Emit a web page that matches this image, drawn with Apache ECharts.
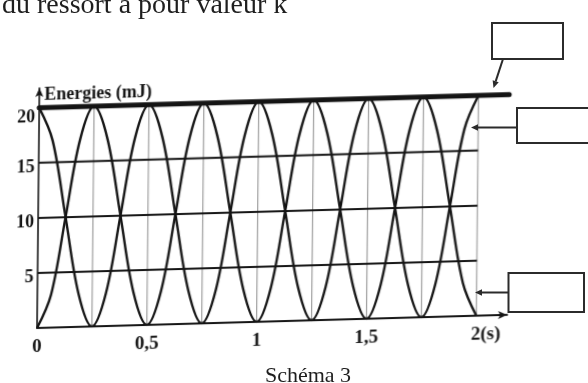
<!DOCTYPE html>
<html>
<head>
<meta charset="utf-8">
<script src="https://cdn.jsdelivr.net/npm/echarts@6/dist/echarts.min.js"></script>
<style>
  html, body { margin: 0; padding: 0; background: #fff; width: 588px; height: 383px; overflow: hidden; position: relative; }
  /* the energy plot is a scanned figure, pasted slightly skewed on the page */
  #plot { position: absolute; left: -20px; top: -20px; width: 640px; height: 440px;
          transform-origin: 20px 20px; transform: matrix(1, -0.028, -0.01, 1, 3.3, 0); }
  #notes { position: absolute; left: 0; top: 0; width: 588px; height: 383px; pointer-events: none; }
</style>
</head>
<body>
<div id="plot"></div>
<div id="notes"></div>
<script>
// time samples (s)
const timeS = [0, 0.0625, 0.125, 0.1875, 0.25, 0.3125, 0.375, 0.4375,
               0.5, 0.5625, 0.625, 0.6875, 0.75, 0.8125, 0.875, 0.9375,
               1, 1.0625, 1.125, 1.1875, 1.25, 1.3125, 1.375, 1.4375,
               1.5, 1.5625, 1.625, 1.6875, 1.75, 1.8125, 1.875, 1.9375, 2];
// energy curve that starts at 0 mJ
const energyRising = [0, 3, 10, 17, 20, 17, 10, 3,
                      0, 3, 10, 17, 20, 17, 10, 3,
                      0, 3, 10, 17, 20, 17, 10, 3,
                      0, 3, 10, 17, 20, 17, 10, 3, 0];
// energy curve that starts at 20 mJ
const energyFalling = [20, 17, 10, 3, 0, 3, 10, 17,
                       20, 17, 10, 3, 0, 3, 10, 17,
                       20, 17, 10, 3, 0, 3, 10, 17,
                       20, 17, 10, 3, 0, 3, 10, 17, 20];
// total energy (thick line)
const totalTime = [0, 2.14];
const totalEnergy = [20, 20];
// grid
const gridLevels = [5, 10, 15];
const gridTimes = [0.25, 0.5, 0.75, 1, 1.25, 1.5, 1.75, 2];
// tick labels
const xTickValues = [0, 0.5, 1, 1.5, 2];
const xTickLabels = ['0', '0,5', '1', '1,5', '2(s)'];
const yTickValues = [5, 10, 15, 20];
const yTickLabels = ['5', '10', '15', '20'];
const yAxisTitle = 'Energies (mJ)';
const headline = 'du ressort a pour valeur k';
const caption = 'Schéma 3';

const INK = '#141414';
const SERIF = '"Liberation Serif", "Times New Roman", serif';

const series = [];
// vertical guide lines
gridTimes.forEach(t => series.push({
  type: 'line', data: [[t, 0], [t, 20]], symbol: 'none', silent: true, z: 1,
  lineStyle: { color: '#8a8a8a', width: 1 }
}));
// horizontal guide lines
gridLevels.forEach(v => series.push({
  type: 'line', data: [[0, v], [2, v]], symbol: 'none', silent: true, z: 2,
  lineStyle: { color: INK, width: 2 }
}));
series.push({
  type: 'line', smooth: 0.35, symbol: 'none', z: 3,
  data: timeS.map((t, i) => [t, energyRising[i]]),
  lineStyle: { color: INK, width: 2.4 }
});
series.push({
  type: 'line', smooth: 0.35, symbol: 'none', z: 3,
  data: timeS.map((t, i) => [t, energyFalling[i]]),
  lineStyle: { color: INK, width: 2.4 }
});
series.push({
  type: 'line', symbol: 'none', z: 4,
  data: totalTime.map((t, i) => [t, totalEnergy[i]]),
  lineStyle: { color: INK, width: 5, cap: 'round' }
});

const plot = echarts.init(document.getElementById('plot'), null, { renderer: 'canvas' });
plot.setOption({
  animation: false,
  backgroundColor: 'transparent',
  grid: { left: 57, right: 113, top: 109, bottom: 91 },
  xAxis: {
    type: 'value', min: 0, max: 2.14, interval: 0.5,
    axisLine: { show: true, lineStyle: { color: INK, width: 2 },
                symbol: ['none', 'arrow'], symbolSize: [6, 9] },
    axisTick: { show: false },
    splitLine: { show: false },
    axisLabel: {
      margin: 10, color: INK, fontFamily: SERIF, fontWeight: 'bold', fontSize: 19,
      showMaxLabel: false,
      formatter: v => {
        const i = xTickValues.indexOf(v);
        if (i < 0) return '';
        return i === xTickValues.length - 1 ? '{s|' + xTickLabels[i] + '}' : xTickLabels[i];
      },
      rich: { s: { padding: [0, 0, 0, 19], color: INK, fontFamily: SERIF, fontWeight: 'bold', fontSize: 19 } }
    }
  },
  yAxis: {
    type: 'value', min: 0, max: 21.8, interval: 5,
    name: yAxisTitle, nameLocation: 'end', nameGap: -7,
    nameTextStyle: { color: INK, fontFamily: SERIF, fontWeight: 'bold', fontSize: 18,
                     align: 'left', verticalAlign: 'middle', padding: [0, 0, 0, 5] },
    axisLine: { show: true, lineStyle: { color: INK, width: 1.6 },
                symbol: ['none', 'arrow'], symbolSize: [6, 9] },
    axisTick: { show: false },
    splitLine: { show: false },
    axisLabel: {
      margin: 4, color: INK, fontFamily: SERIF, fontWeight: 'bold', fontSize: 18,
      showMaxLabel: false,
      formatter: v => {
        const i = yTickValues.indexOf(v);
        if (i < 0) return '';
        return v === 20 ? '{t|' + yTickLabels[i] + '}' : '{n|' + yTickLabels[i] + '}';
      },
      rich: {
        n: { padding: [8, 0, 0, 0], color: INK, fontFamily: SERIF, fontWeight: 'bold', fontSize: 18 },
        t: { padding: [20, 0, 0, 0], color: INK, fontFamily: SERIF, fontWeight: 'bold', fontSize: 18 }
      }
    }
  },
  series: series
});

// page text, answer boxes and pointers
const STROKE = '#2b2b2b';
function pointer(x1, y1, x2, y2) {
  const a = Math.atan2(y2 - y1, x2 - x1), L = 7, W = 3.2;
  const bx = x2 - L * Math.cos(a), by = y2 - L * Math.sin(a);
  return [
    { type: 'line', shape: { x1: x1, y1: y1, x2: bx, y2: by }, style: { stroke: STROKE, lineWidth: 2 } },
    { type: 'polygon', shape: { points: [[x2, y2], [bx + W * Math.sin(a), by - W * Math.cos(a)], [bx - W * Math.sin(a), by + W * Math.cos(a)]] },
      style: { fill: STROKE } }
  ];
}
const notes = echarts.init(document.getElementById('notes'), null, { renderer: 'canvas' });
notes.setOption({
  animation: false,
  backgroundColor: 'transparent',
  graphic: [
    { type: 'text', x: 2, y: 6, style: { text: headline, fill: '#1e1e1e', fontFamily: SERIF, fontSize: 28, verticalAlign: 'middle', align: 'left' } },
    { type: 'text', x: 308, y: 376, style: { text: caption, fill: '#1e1e1e', fontFamily: SERIF, fontSize: 22, verticalAlign: 'middle', align: 'center' } },
    { type: 'rect', shape: { x: 492, y: 23, width: 71, height: 36 }, style: { stroke: STROKE, lineWidth: 2, fill: 'none' } },
    { type: 'polyline', shape: { points: [[590, 108], [517, 108], [517, 143], [590, 143]] }, style: { stroke: STROKE, lineWidth: 2, fill: 'none' } },
    { type: 'rect', shape: { x: 508.5, y: 273, width: 75.5, height: 39 }, style: { stroke: STROKE, lineWidth: 2, fill: 'none' } },
    ...pointer(503, 59, 493.5, 88),
    ...pointer(517, 127.5, 471, 127.5),
    ...pointer(508, 292.5, 475, 292.5)
  ]
});
</script>
</body>
</html>
